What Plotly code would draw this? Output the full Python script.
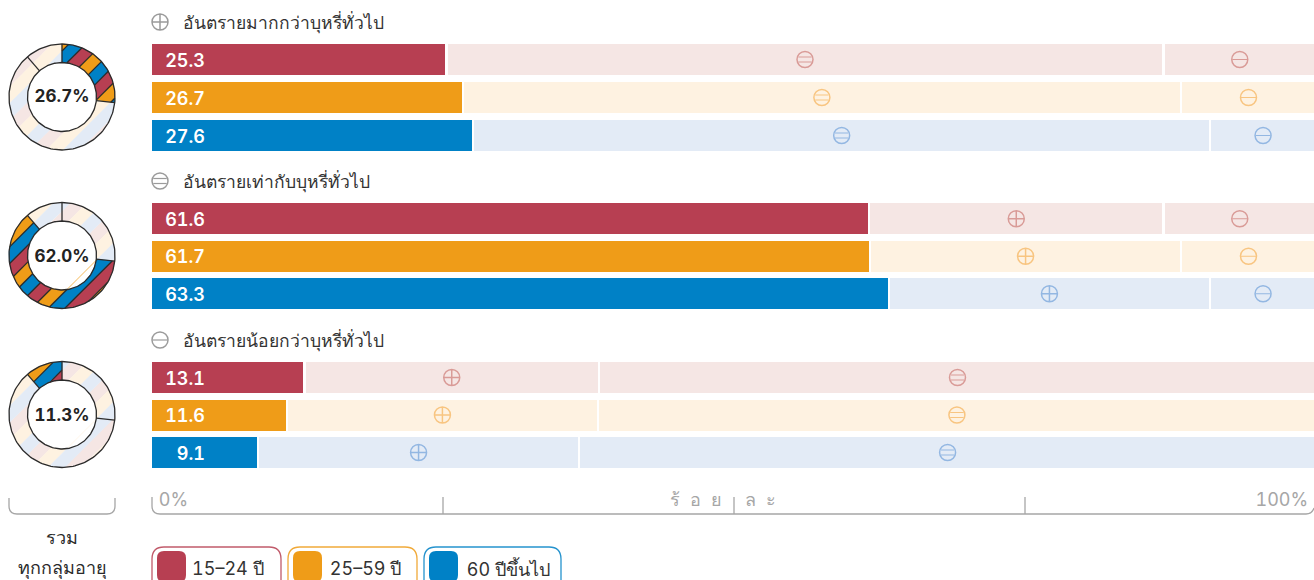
import math
import plotly.graph_objects as go

# ---- data -------------------------------------------------------------
age_groups = ["15–24 ปี", "25–59 ปี", "60 ปีขึ้นไป"]
more_harm = [25.3, 26.7, 27.6]
same_harm = [61.6, 61.7, 63.3]
less_harm = [13.1, 11.6, 9.1]
total_more = 26.7
total_same = 62.0
total_less = 11.3
group_titles = ["อันตรายมากกว่าบุหรี่ทั่วไป", "อันตรายเท่ากับบุหรี่ทั่วไป", "อันตรายน้อยกว่าบุหรี่ทั่วไป"]
axis_labels = ["0%", "100%"]
total_label = ["รวม", "ทุกกลุ่มอายุ"]

# ---- styles -----------------------------------------------------------
SOLID = ["#b73f52", "#ef9c18", "#0081c6"]
PALE = ["#f5e6e4", "#fef2e1", "#e3ebf6"]
ICON = ["#d99b97", "#f8c581", "#93b7e2"]
FONT = "Inter, 'Noto Sans', sans-serif"
INK = "#2b2b2b"
GREY = "#a6a6a6"
W, H = 1314, 580
X0 = 152
X_SCALE_PX = 1164  # the 0-100 scale runs a little past the right edge of the page

groups = [
    (more_harm, same_harm, less_harm, "equal", "minus", total_more, 0.0),
    (same_harm, more_harm, less_harm, "plus", "minus", total_same, total_more),
    (less_harm, more_harm, same_harm, "plus", "equal", total_less, total_more + total_same),
]
domains_px = [(40.5, 154.5), (200.0, 312.5), (358.75, 471.25)]
donut_centers = [(62, 97), (62, 255.5), (62, 414.5)]
donut_text_shift = [0.5, 2.5, 2.5]
stripe_offsets = [4, -11, -11]
header_y = [22, 181, 340]

fig = go.Figure()


def icon_traces(xs, ys, kind, color, xa, ya, size, dy):
    """circle icon with plus / equal / minus through marker symbols"""
    common = dict(mode="markers", xaxis=xa, yaxis=ya, hoverinfo="skip", showlegend=False)
    lw = 1.5
    if kind == "plus":
        fig.add_trace(go.Scatter(x=xs, y=ys, marker=dict(symbol="circle-cross-open", size=size, color=color,
                                                         line=dict(width=lw, color=color)), **common))
        return
    fig.add_trace(go.Scatter(x=xs, y=ys, marker=dict(symbol="circle-open", size=size, color=color,
                                                     line=dict(width=lw, color=color)), **common))
    offs = [0] if kind == "minus" else [-dy, dy]
    length = size - 1 if kind == "minus" else size - 2.5
    for o in offs:
        fig.add_trace(go.Scatter(x=xs, y=[v + o for v in ys],
                                 marker=dict(symbol="line-ew", size=length / 1.4, color=color,
                                             line=dict(width=lw - 0.3, color=color)), **common))


# ---- bars -------------------------------------------------------------
rows = [0, 1, 2]
for g, (first, second, third, k2, k3, _, _) in enumerate(groups):
    ya = "y" if g == 0 else f"y{g + 1}"
    top, bot = domains_px[g]
    pitch = (bot - top) / 3
    fig.add_trace(go.Bar(x=first, y=rows, orientation="h", xaxis="x", yaxis=ya, width=31 / pitch,
                         marker=dict(color=SOLID, line=dict(width=0)), hoverinfo="skip", showlegend=False))
    for seg in (second, third):
        fig.add_trace(go.Bar(x=seg, y=rows, orientation="h", xaxis="x", yaxis=ya, width=33.2 / pitch,
                             marker=dict(color=PALE, line=dict(width=2.2, color="white")),
                             hoverinfo="skip", showlegend=False))
    # value labels
    fig.add_trace(go.Scatter(x=[4.55] * 3, y=[r + 2.5 / pitch for r in rows], mode="text",
                             text=[f"{v:.1f}" for v in first],
                             textposition="middle left", xaxis="x", yaxis=ya,
                             textfont=dict(family=FONT, size=18, color="white", weight=600),
                             hoverinfo="skip", showlegend=False))
    # icons in the middle of the pale segments
    for r in rows:
        m2 = first[r] + second[r] / 2
        m3 = first[r] + second[r] + third[r] / 2
        icon_traces([m2], [r], k2, ICON[r], "x", ya, 16, 2.5 / pitch)
        icon_traces([m3], [r], k3, ICON[r], "x", ya, 16, 2.5 / pitch)

# ---- donuts -----------------------------------------------------------
RO, RI = 53, 34.5
PERIOD = 50.0


def ring(a0, a1):
    n = max(4, int(abs(a1 - a0) / 2))
    pts = []
    for i in range(n + 1):
        a = math.radians(a0 + (a1 - a0) * i / n)
        pts.append((RO * math.sin(a), -RO * math.cos(a)))
    for i in range(n, -1, -1):
        a = math.radians(a0 + (a1 - a0) * i / n)
        pts.append((RI * math.sin(a), -RI * math.cos(a)))
    return pts


def clip(pts, d, keep_above):
    out = []
    for i in range(len(pts)):
        p, q = pts[i], pts[(i + 1) % len(pts)]
        fp, fq = p[0] + p[1] - d, q[0] + q[1] - d
        if not keep_above:
            fp, fq = -fp, -fq
        if fp >= 0:
            out.append(p)
        if (fp >= 0) != (fq >= 0):
            t = fp / (fp - fq)
            out.append((p[0] + (q[0] - p[0]) * t, p[1] + (q[1] - p[1]) * t))
    return out


def boundary_segments(d, a0, a1):
    """pieces of the line x+y=d inside the ring sector"""
    xs, ys, run = [], [], False
    for i in range(0, 801):
        t = -80 + i * 0.2
        x, y = d / 2 + t, d / 2 - t
        r = math.hypot(x, y)
        ang = math.degrees(math.atan2(x, -y)) % 360
        inside = RI <= r <= RO and a0 <= ang <= a1
        if inside:
            xs.append(x)
            ys.append(y)
            run = True
        elif run:
            xs.append(None)
            ys.append(None)
            run = False
    return xs, ys


def add_sector(cx, cy, a0, a1, palette, offset, lines):
    poly = ring(a0, a1)
    step = PERIOD / 3
    xs = {0: [], 1: [], 2: []}
    ys = {0: [], 1: [], 2: []}
    lx, ly = [], []
    # stripes: blue starts at offset, then red, then orange
    for k in range(-6, 7):
        for j, col in enumerate((2, 0, 1)):
            lo = offset + k * PERIOD + j * step
            hi = lo + step
            part = clip(clip(poly, lo, True), hi, False)
            if part:
                xs[col] += [cx + p[0] for p in part] + [cx + part[0][0], None]
                ys[col] += [cy + p[1] for p in part] + [cy + part[0][1], None]
            if lines:
                bx, by = boundary_segments(lo, a0, a1)
                if bx:
                    lx += [cx + v if v is not None else None for v in bx] + [None]
                    ly += [cy + v if v is not None else None for v in by] + [None]
    for col in (0, 1, 2):
        fig.add_trace(go.Scatter(x=xs[col], y=ys[col], mode="lines", fill="toself", fillcolor=palette[col],
                                 line=dict(width=0.4, color=palette[col]), xaxis="x2", yaxis="y4",
                                 hoverinfo="skip", showlegend=False))
    return lx, ly


total_all = total_more + total_same + total_less
cuts = [0.0, total_more, total_more + total_same, total_all]
for g, (_, _, _, _, _, share, start) in enumerate(groups):
    cx, cy = donut_centers[g]
    off = stripe_offsets[g]
    line_x, line_y = [], []
    solid_a0 = start / total_all * 360
    solid_a1 = (start + share) / total_all * 360
    for i in range(3):
        a0, a1 = cuts[i] / total_all * 360, cuts[i + 1] / total_all * 360
        if abs(a0 - solid_a0) > 1e-6:
            add_sector(cx, cy, a0, a1, PALE, off, False)
    lx, ly = add_sector(cx, cy, solid_a0, solid_a1, SOLID, off, True)
    line_x += lx
    line_y += ly
    for R in (RO, RI):
        for i in range(181):
            a = math.radians(i * 2)
            line_x.append(cx + R * math.sin(a))
            line_y.append(cy - R * math.cos(a))
        line_x.append(None)
        line_y.append(None)
    for c in cuts[:3]:
        a = math.radians(c / total_all * 360)
        line_x += [cx + RI * math.sin(a), cx + RO * math.sin(a), None]
        line_y += [cy - RI * math.cos(a), cy - RO * math.cos(a), None]
    fig.add_trace(go.Scatter(x=line_x, y=line_y, mode="lines", line=dict(color=INK, width=1.3),
                             xaxis="x2", yaxis="y4", hoverinfo="skip", showlegend=False))
    fig.add_trace(go.Scatter(x=[cx], y=[cy + donut_text_shift[g]], mode="text", text=[f"{share:.1f}%"],
                             textposition="middle center",
                             textfont=dict(family=FONT, size=17, color="#222222", weight=700),
                             xaxis="x2", yaxis="y4", hoverinfo="skip", showlegend=False))

# header icons
for y, kind in zip(header_y, ("plus", "equal", "minus")):
    icon_traces([160], [y], kind, "#9b9b9b", "x2", "y4", 16, 2.5)

# ---- annotations ------------------------------------------------------
ann = []


def text(x, y, s, size=16, color=INK, anchor="left", weight=400):
    ann.append(dict(x=x, y=y, xref="x2", yref="y4", text=s, showarrow=False, xanchor=anchor, yanchor="middle",
                    font=dict(family=FONT, size=size, color=color, weight=weight)))


NB = "\u00a0\u00a0"
for y, t in zip(header_y, group_titles):
    text(181, y, t, 17.5, "#333333")
text(157, 499, axis_labels[0], 18, GREY)
text(1308, 499, axis_labels[1], 18, GREY, "right")
text(724, 499, "ร้" + NB + "อ" + NB + "ย", 18, GREY, "right")
text(743, 499, "ล" + NB + "ะ", 18, GREY)
text(62, 537, total_label[0], 18, INK, "center", 500)
text(62, 568, total_label[1], 18, INK, "center", 500)

# ---- brackets, axis, legend ---------------------------------------------
shapes = []


def rrect(x0, y0, x1, y1, r):
    return (f"M{x0 + r},{y0} H{x1 - r} Q{x1},{y0} {x1},{y0 + r} V{y1 - r} Q{x1},{y1} {x1 - r},{y1} "
            f"H{x0 + r} Q{x0},{y1} {x0},{y1 - r} V{y0 + r} Q{x0},{y0} {x0 + r},{y0} Z")


shapes.append(dict(type="path", xref="x2", yref="y4", path="M9,498 V506 Q9,514 17,514 H107 Q115,514 115,506 V498",
                   line=dict(color=GREY, width=1.3)))
shapes.append(dict(type="path", xref="x2", yref="y4",
                   path="M152,497 V506 Q152,514 160,514 H1306 Q1312,514 1314,508",
                   line=dict(color=GREY, width=1.3)))
for v in (25, 50, 75):
    shapes.append(dict(type="line", xref="x", yref="y4", x0=v, x1=v, y0=497, y1=514,
                       line=dict(color=GREY, width=1.3)))

legend_boxes = [(152, 281), (288, 417), (424, 561)]
for (x0, x1), label, col in zip(legend_boxes, age_groups, SOLID):
    shapes.append(dict(type="path", xref="x2", yref="y4", path=rrect(x0, 547, x1, 600, 12),
                       line=dict(color=col, width=1.3), opacity=0.85))
    shapes.append(dict(type="path", xref="x2", yref="y4", path=rrect(x0 + 5, 551, x0 + 34, 582, 7),
                       fillcolor=col, line=dict(width=0)))
    text(x0 + 41, 568, label, 18, "#333333")

# ---- layout -----------------------------------------------------------
hidden = dict(visible=False, showgrid=False, zeroline=False, fixedrange=True)
layout = dict(
    width=W, height=H, margin=dict(l=0, r=0, t=0, b=0), autosize=False,
    paper_bgcolor="white", plot_bgcolor="rgba(0,0,0,0)", barmode="stack", showlegend=False,
    font=dict(family=FONT), shapes=shapes, annotations=ann,
    xaxis=dict(domain=[X0 / W, 1], range=[0, 100 * (W - X0) / X_SCALE_PX], **hidden),
    xaxis2=dict(domain=[0, 1], range=[0, W], anchor="y4", **hidden),
    yaxis4=dict(domain=[0, 1], range=[H, 0], anchor="x2", **hidden),
)
for g, (top, bot) in enumerate(domains_px):
    key = "yaxis" if g == 0 else f"yaxis{g + 1}"
    layout[key] = dict(domain=[1 - bot / H, 1 - top / H], range=[2.5, -0.5], anchor="x", **hidden)
fig.update_layout(**layout)

css = (".textpoint text, .annotation-text{font-variant-numeric:tabular-nums !important;"
       "font-feature-settings:'tnum' !important;}")
fig.write_html("out.html", config={"displayModeBar": False},
               post_script="document.body.style.margin='0';document.body.style.overflow='hidden';"
                           "var s=document.createElement('style');s.textContent=\"" + css + "\";"
                           "document.head.appendChild(s);")
